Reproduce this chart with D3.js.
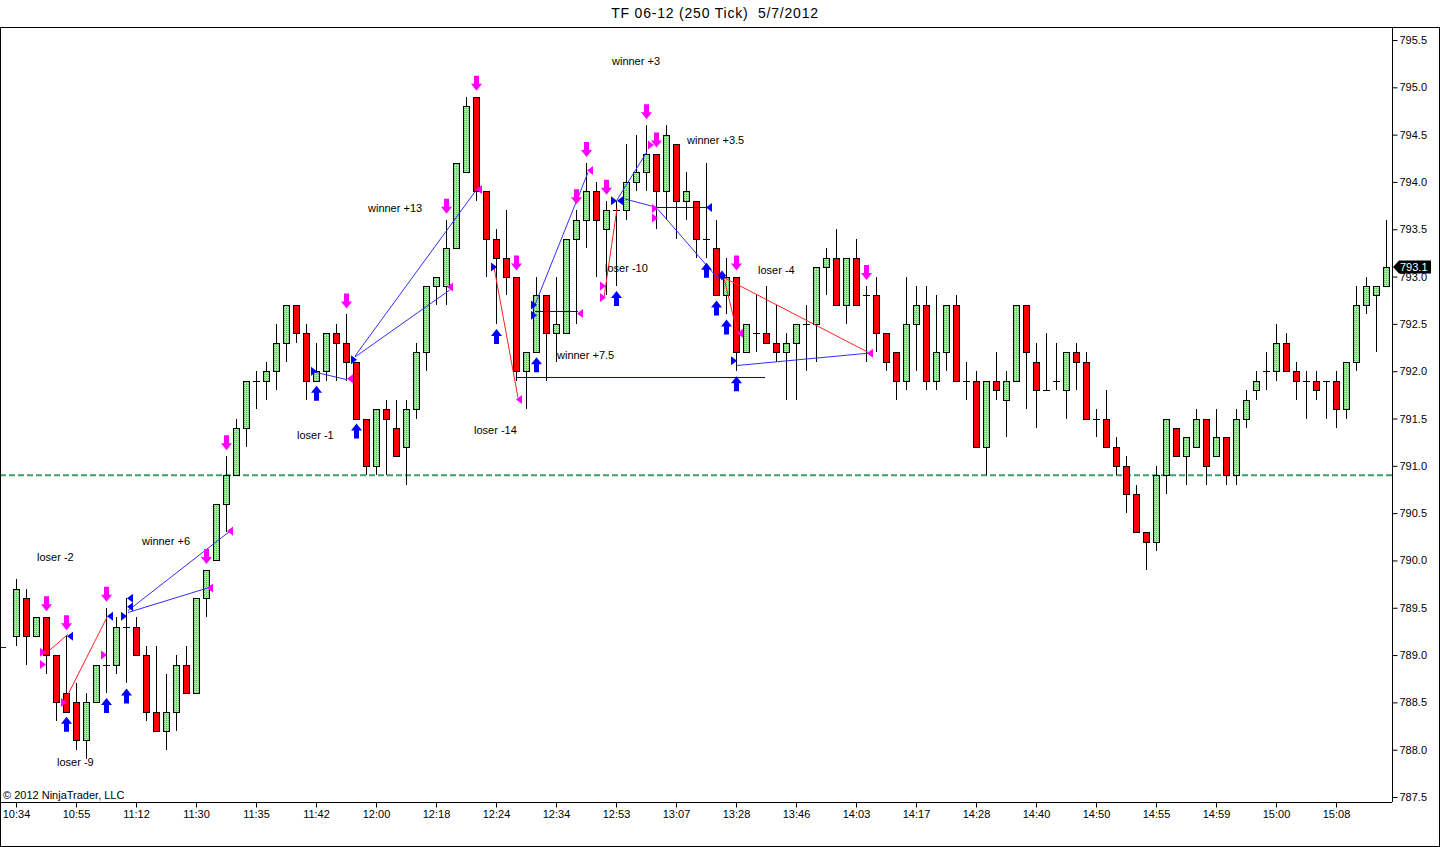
<!DOCTYPE html>
<html><head><meta charset="utf-8">
<script src="https://cdn.jsdelivr.net/npm/d3@7"></script>
<style>
body{margin:0;background:#fff;}
svg{display:block;font-family:"Liberation Sans",Arial,sans-serif;}
</style></head>
<body>
<svg id="chart" width="1440" height="847"></svg>
<script>
const title = "TF 06-12 (250 Tick)  5/7/2012";
const timeLabels = ["10:34","10:55","11:12","11:30","11:35","11:42","12:00","12:18","12:24","12:34","12:53","13:07","13:28","13:46","14:03","14:17","14:28","14:40","14:50","14:55","14:59","15:00","15:08"];
const priceTicks = [787.5,788.0,788.5,789.0,789.5,790.0,790.5,791.0,791.5,792.0,792.5,793.0,793.5,794.0,794.5,795.0,795.5];

const opens = [789.2,789.6,789.2,789.4,789.0,788.6,788.5,788.1,788.5,788.9,
788.9,789.3,789.3,789.0,788.4,788.2,788.4,788.9,788.6,789.6,
790.0,790.6,790.9,791.4,791.9,791.9,792.0,792.3,792.7,792.4,
791.9,792.0,792.4,792.3,792.1,791.5,791.0,791.6,791.4,791.2,
791.6,792.2,792.9,792.9,793.3,794.1,794.9,793.9,793.4,793.2,
793.0,792.0,792.2,792.8,792.4,792.4,793.4,793.6,793.9,793.5,
793.7,793.7,794.0,794.1,794.3,793.9,794.4,793.8,793.8,793.4,
793.3,792.8,793.0,792.2,792.4,792.4,792.3,792.2,792.3,792.5,
792.5,793.1,793.2,792.7,793.2,792.8,792.8,792.4,792.2,791.9,
792.5,792.7,791.9,792.2,792.7,791.9,791.9,791.2,791.9,791.7,
791.9,792.7,792.1,791.8,791.9,791.8,792.2,792.1,791.5,791.5,
791.2,791.0,790.7,790.3,790.2,790.9,791.4,791.1,791.2,791.5,
791.1,791.3,790.9,791.5,791.8,792.0,792.0,792.3,792.0,791.9,
791.9,791.9,791.9,791.6,792.1,792.7,792.8,792.9];

const highs = [789.8,789.7,789.4,789.4,789.0,789.2,788.7,788.6,788.9,789.5,
789.4,789.6,789.4,789.1,789.1,788.8,789.0,789.1,789.6,789.9,
790.6,791.1,791.5,791.9,792.0,792.1,792.5,792.7,792.7,792.5,
792.3,792.4,792.5,792.6,792.1,791.5,791.6,791.7,791.7,791.7,
792.3,792.9,793.0,793.6,794.2,794.9,794.9,793.9,793.5,793.7,
793.0,792.2,793.0,792.8,793.0,793.4,793.7,794.2,794.0,793.8,
793.8,794.4,794.5,794.6,794.3,794.6,794.4,794.1,793.8,794.2,
793.6,793.2,793.0,792.5,792.8,792.9,792.7,792.4,792.5,792.7,
793.1,793.3,793.5,793.2,793.4,792.9,793.0,792.4,792.2,793.0,
792.9,792.9,792.8,792.7,792.8,792.1,792.0,791.9,792.2,792.0,
792.7,792.7,792.3,792.4,792.3,792.2,792.3,792.2,791.6,791.8,
791.3,791.1,790.8,790.3,791.0,791.5,791.4,791.3,791.6,791.5,
791.6,791.3,791.6,791.8,792.0,792.2,792.5,792.4,792.1,792.0,
792.0,791.9,792.0,792.1,792.9,793.0,792.9,793.6];

const lows = [789.1,788.9,789.2,788.8,788.3,788.4,788.0,787.9,788.5,788.6,
788.8,788.7,789.0,788.3,788.2,788.0,788.2,788.6,788.6,789.4,
790.0,790.3,790.9,791.2,791.6,791.7,791.8,792.1,792.3,791.7,
791.9,791.9,791.9,791.9,791.5,790.9,790.9,790.9,791.1,790.8,
791.5,792.0,792.7,792.7,793.3,794.1,793.8,793.0,792.5,792.8,
791.9,791.6,792.2,791.9,792.1,792.4,792.5,793.3,793.0,792.8,
792.9,793.6,793.9,793.9,793.5,793.6,793.4,793.6,793.2,793.2,
792.8,792.6,792.0,792.2,792.2,792.3,792.1,791.7,791.7,792.0,
792.1,792.8,792.7,792.5,792.7,792.1,792.2,792.0,791.7,791.8,
792.0,791.8,791.8,792.0,791.9,791.7,791.2,790.9,791.7,791.3,
791.9,791.6,791.4,791.8,791.8,791.5,791.8,791.5,791.3,791.2,
790.9,790.5,790.3,789.9,790.1,790.7,791.1,790.8,791.2,790.8,
791.1,790.8,790.8,791.4,791.7,791.8,791.9,792.0,791.7,791.5,
791.7,791.5,791.4,791.5,792.0,792.6,792.2,792.9];

const closes = [789.7,789.2,789.4,789.0,788.5,788.4,788.1,788.5,788.9,788.9,
789.3,789.3,789.0,788.4,788.2,788.4,788.9,788.6,789.6,789.9,
790.6,790.9,791.4,791.9,791.9,792.0,792.3,792.7,792.4,791.9,
792.0,792.4,792.3,792.1,791.5,791.0,791.6,791.5,791.1,791.6,
792.2,792.9,793.0,793.3,794.2,794.8,793.9,793.4,793.2,793.0,
792.0,792.2,792.8,792.4,792.5,793.4,793.6,793.9,793.6,793.7,
793.7,794.0,794.1,794.3,793.9,794.5,793.8,793.9,793.4,793.4,
792.8,793.0,792.2,792.5,792.4,792.3,792.2,792.3,792.5,792.5,
793.1,793.2,792.7,793.2,792.7,792.8,792.4,792.1,791.9,792.5,
792.7,791.9,792.2,792.7,791.9,791.9,791.2,791.9,791.8,791.9,
792.7,792.2,791.8,791.8,791.9,792.2,792.1,791.5,791.5,791.2,
791.0,790.7,790.3,790.2,790.9,791.5,791.1,791.3,791.5,791.0,
791.3,790.9,791.5,791.7,791.9,792.0,792.3,792.0,791.9,791.9,
791.8,791.9,791.6,792.1,792.7,792.9,792.9,793.1];

// signal arrows (bar indices)
const sellSignals = [3,5,9,19,21,33,43,46,50,56,57,59,63,64,72,85];
const buySignals = [5,9,11,30,34,48,52,60,69,70,71,72];

// trade markers: [bar position, price, shape]
const exitMarks = [[2.7,789.03,"R"],[2.7,788.90,"R"],[4.8,788.50,"R"],[8.8,789.0,"R"],[19.4,789.71,"L"],[21.4,790.31,"L"],[33.4,791.92,"L"],[43.4,792.89,"L"],[46.3,793.92,"L"],[50.3,791.70,"L"],[56.4,792.61,"L"],[57.4,794.12,"L"],[58.7,792.90,"R"],[58.7,792.78,"R"],[63.5,794.39,"R"],[63.9,793.72,"R"],[63.9,793.62,"R"],[72.4,792.40,"L"],[85.4,792.19,"L"]];
const entryMarks = [[5.4,789.20,"L"],[9.4,789.41,"L"],[11.4,789.60,"L"],[11.4,789.51,"L"],[10.8,789.41,"R"],[29.8,792.0,"R"],[33.8,792.12,"R"],[47.8,793.10,"R"],[51.8,792.70,"R"],[51.8,792.59,"R"],[59.8,793.80,"R"],[60.4,793.80,"L"],[69.3,793.73,"L"],[70.6,793.01,"D"],[71.8,792.11,"R"]];

// trade connection lines: [bar1, price1, bar2, price2]
const lossLines = [[2.9,789.01,5.2,789.22],[4.8,788.50,9.1,789.40],[47.8,793.10,50.2,791.72],[58.8,792.78,60.1,793.72],[70.6,793.0,85.2,792.20],[70.8,792.98,72.1,792.42]];
const winLines = [[11.2,789.45,19.2,789.71],[11.2,789.47,21.4,790.31],[29.9,791.99,33.1,791.91],[33.9,792.15,43.4,792.86],[33.9,792.16,46.2,793.94],[51.7,792.65,57.2,794.10],[60.1,793.81,63.1,794.32],[60.9,793.82,64.1,793.73],[64.2,793.71,70.2,792.98],[72.1,792.06,85.2,792.19]];
// horizontal stop/target lines: [bar1, bar2, price]
const levelLines = [[51.9,56.2,792.64],[64.1,69.2,793.73],[50.1,74.9,791.94]];

const dashedLevel = 790.9;
const lastPrice = 793.1;

// annotations: [text, bar position, price]
const notes = [["winner +3",59.6,795.28],["winner +3.5",67.1,794.44],["winner +13",35.2,793.72],["loser -10",58.9,793.09],["loser -4",74.2,793.07],["winner +7.5",54.1,792.17],["loser -14",45.8,791.38],["loser -1",28.1,791.32],["loser -2",2.1,790.03],["winner +6",12.6,790.20],["loser -9",4.1,787.87]];

// ---------------- drawing ----------------
const svg = d3.select("#chart");
const W = 1440, H = 847;
const plotRight = 1392, plotTop = 27, plotBottom = 802;

const x = d3.scaleLinear().domain([0, 137]).range([16, 1386]);
const y = d3.scaleLinear().domain([787.5, 795.5]).range([797, 40]);

const defs = svg.append("defs");
const pat = defs.append("pattern").attr("id","dots").attr("width",2).attr("height",2).attr("patternUnits","userSpaceOnUse");
pat.append("rect").attr("width",2).attr("height",2).attr("fill","#a0f0a0");
pat.append("rect").attr("width",1).attr("height",1).attr("fill","#5cb85c");
defs.append("clipPath").attr("id","plotclip").append("rect").attr("x",1).attr("y",plotTop+1).attr("width",plotRight-1).attr("height",plotBottom-plotTop-1);

svg.append("rect").attr("x",0.5).attr("y",plotTop+0.5).attr("width",W-1).attr("height",H-plotTop-1).attr("fill","#fff").attr("stroke","#000");

svg.append("text").attr("x",715).attr("y",18).attr("text-anchor","middle").attr("font-size",14)
  .attr("letter-spacing","0.8px").attr("fill","#000").style("white-space","pre").text(title);

const plot = svg.append("g").attr("clip-path","url(#plotclip)");

// dashed level
plot.append("line").attr("x1",0).attr("x2",plotRight).attr("y1",y(dashedLevel)).attr("y2",y(dashedLevel))
  .attr("stroke","#3d9e70").attr("stroke-width",2).attr("stroke-dasharray","6,3");

// left edge marker
plot.append("line").attr("x1",0).attr("x2",6).attr("y1",Math.round(y(789.08))+0.5).attr("y2",Math.round(y(789.08))+0.5).attr("stroke","#0000cc");

const bars = d3.range(opens.length).map(i => ({i, o:opens[i], h:highs[i], l:lows[i], c:closes[i]}));
const px = v => Math.round(v) + 0.5;

const cg = plot.append("g").attr("shape-rendering","crispEdges");
cg.selectAll("line.wick").data(bars).join("line").attr("class","wick")
  .attr("x1", d => px(x(d.i))).attr("x2", d => px(x(d.i)))
  .attr("y1", d => Math.round(y(d.h))).attr("y2", d => Math.round(y(d.l)))
  .attr("stroke","#000").attr("stroke-width",1);
cg.selectAll("rect.body").data(bars.filter(d => d.o !== d.c)).join("rect").attr("class","body")
  .attr("x", d => Math.round(x(d.i)) - 2.5)
  .attr("width", 6)
  .attr("y", d => Math.round(y(Math.max(d.o,d.c))) + 0.5)
  .attr("height", d => Math.max(1, Math.round(y(Math.min(d.o,d.c))) - Math.round(y(Math.max(d.o,d.c)))))
  .attr("fill", d => d.c > d.o ? "url(#dots)" : "#ff0000")
  .attr("stroke","#000").attr("stroke-width",1.3);
cg.selectAll("line.doji").data(bars.filter(d => d.o === d.c)).join("line").attr("class","doji")
  .attr("x1", d => Math.round(x(d.i)) - 3).attr("x2", d => Math.round(x(d.i)) + 4)
  .attr("y1", d => px(y(d.o))).attr("y2", d => px(y(d.o)))
  .attr("stroke","#000").attr("stroke-width",1);

// trade lines
const lg = plot.append("g");
lg.selectAll("line.loss").data(lossLines).join("line")
  .attr("x1", d => x(d[0])).attr("y1", d => y(d[1])).attr("x2", d => x(d[2])).attr("y2", d => y(d[3]))
  .attr("stroke","#ff2020").attr("stroke-width",1);
lg.selectAll("line.win").data(winLines).join("line")
  .attr("x1", d => x(d[0])).attr("y1", d => y(d[1])).attr("x2", d => x(d[2])).attr("y2", d => y(d[3]))
  .attr("stroke","#3030ff").attr("stroke-width",1);
lg.selectAll("line.lvl").data(levelLines).join("line")
  .attr("x1", d => x(d[0])).attr("x2", d => x(d[1])).attr("y1", d => px(y(d[2]))).attr("y2", d => px(y(d[2])))
  .attr("stroke", (d,i) => i === 2 ? "#101060" : "#0000c8").attr("stroke-width",1.2);

// markers
function markPath(shape){
  if (shape === "R") return "M-3,-4.5L3,0L-3,4.5Z";
  if (shape === "L") return "M3,-4.5L-3,0L3,4.5Z";
  return "M0,-5L4,0L0,5L-4,0Z";
}
const mg = plot.append("g");
mg.selectAll("path.exit").data(exitMarks).join("path")
  .attr("transform", d => `translate(${x(d[0])},${y(d[1])})`).attr("d", d => markPath(d[2])).attr("fill","#ff00ff");
mg.selectAll("path.entry").data(entryMarks).join("path")
  .attr("transform", d => `translate(${x(d[0])},${y(d[1])})`).attr("d", d => markPath(d[2])).attr("fill","#0000ff");

// signal arrows
const downArrow = "M-2.5,-15L2.5,-15L2.5,-7L5.5,-7L0,0L-5.5,-7L-2.5,-7Z";
const upArrow = "M-2.5,15L2.5,15L2.5,7L5.5,7L0,0L-5.5,7L-2.5,7Z";
mg.selectAll("path.sell").data(sellSignals).join("path")
  .attr("transform", i => `translate(${px(x(i))},${y(highs[i]) - 6})`).attr("d", downArrow).attr("fill","#ff00ff");
mg.selectAll("path.buy").data(buySignals).join("path")
  .attr("transform", i => `translate(${px(x(i))},${y(lows[i]) + 5})`).attr("d", upArrow).attr("fill","#0000ff");

// annotations
plot.append("g").selectAll("text").data(notes).join("text")
  .attr("x", d => x(d[1])).attr("y", d => y(d[2])).attr("dy","0.35em")
  .attr("font-size",11).attr("fill","#000").text(d => d[0]);

// copyright
svg.append("text").attr("x",3).attr("y",799).attr("font-size",11).attr("fill","#000").text("\u00a9 2012 NinjaTrader, LLC");

// right axis
svg.append("line").attr("x1",px(plotRight)).attr("x2",px(plotRight)).attr("y1",plotTop).attr("y2",plotBottom).attr("stroke","#000");
const ya = svg.append("g").attr("transform",`translate(${px(plotRight)},0)`)
  .call(d3.axisRight(y).tickValues(priceTicks).tickFormat(d3.format(".1f")).tickSize(5).tickPadding(2));
ya.select(".domain").remove();
ya.selectAll("text").attr("font-size",11).attr("font-family","Liberation Sans, Arial, sans-serif").attr("fill","#000");
ya.selectAll("line").attr("stroke","#000");

// last price tag
const ly = y(lastPrice);
svg.append("path").attr("d",`M${plotRight+1},${ly}L${plotRight+7},${ly-6.5}L${plotRight+39},${ly-6.5}L${plotRight+39},${ly+6.5}L${plotRight+7},${ly+6.5}Z`).attr("fill","#000");
svg.append("text").attr("x",plotRight+8).attr("y",ly).attr("dy","0.36em").attr("font-size",11).attr("fill","#fff").text(d3.format(".1f")(lastPrice));

// bottom axis
svg.append("line").attr("x1",0).attr("x2",plotRight).attr("y1",px(plotBottom)).attr("y2",px(plotBottom)).attr("stroke","#000");
const tickIdx = timeLabels.map((t,k) => k*6);
const xa = svg.append("g").attr("transform",`translate(0,${px(plotBottom)})`)
  .call(d3.axisBottom(x).tickValues(tickIdx).tickFormat((d,k) => timeLabels[k]).tickSize(5).tickPadding(3));
xa.select(".domain").remove();
xa.selectAll("text").attr("font-size",11).attr("font-family","Liberation Sans, Arial, sans-serif").attr("fill","#000");
xa.selectAll("line").attr("stroke","#000");
</script>
</body></html>
